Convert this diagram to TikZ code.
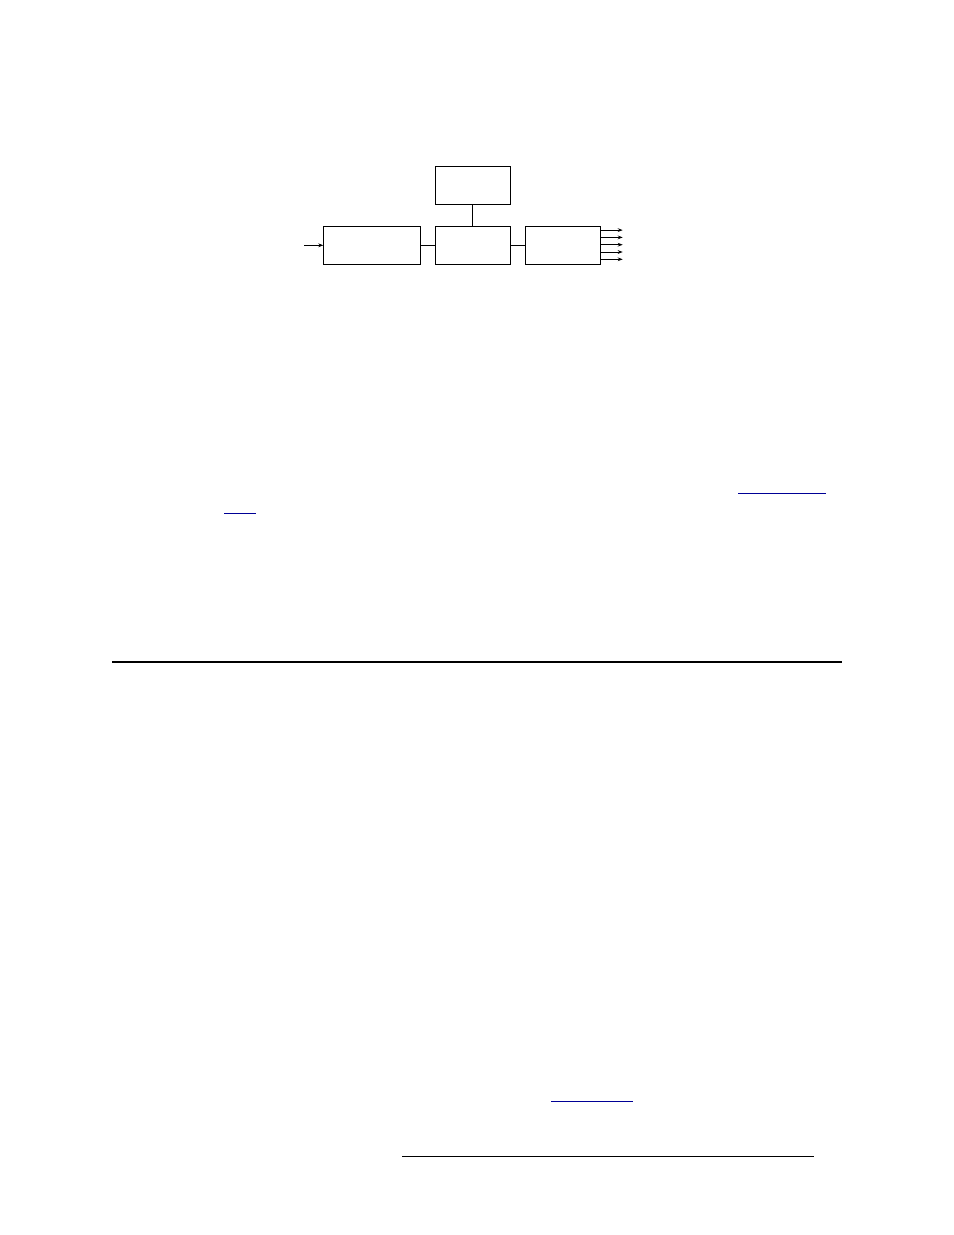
\documentclass[tikz,border=0pt]{standalone}
\usepackage{xcolor}
\usepackage{tikz}
\usetikzlibrary{
    positioning,
    arrows.meta,
    calc
}
\definecolor{linkBlue}{RGB}{0, 0, 150}

\begin{document}
\begin{tikzpicture}[x=0.6415pt, y=-0.6415pt, >={Stealth[length=3.2pt, width=2.4pt]},
        blk/.style={draw, line width=0.6pt, inner sep=0pt, outer sep=0pt, minimum height=24.4pt},
        wire/.style={line width=0.6pt}]
        % 枠
        \useasboundingbox (0,0) rectangle (954,1235);
        \fill[white] (0,0) rectangle (954,1235);
        
        % ブロック
        \node[blk, minimum width=62.2pt] (conv) at (371.8, 245.3) {};
        \node[blk, minimum width=48.1pt] (mix) at (472.8, 245.3) {};
        \node[blk, minimum width=48.1pt] (ctrl) at (472.8, 185) {};
        \node[blk, minimum width=48.1pt] (dist) at (562.8, 245.3) {};
        
        % 接続
        \coordinate (in) at (304, 245.3);
        \draw[wire, ->] (in) -- (conv.west);
        \draw[wire] (conv.east) -- (mix.west);
        \draw[wire] (ctrl.south) -- (mix.north);
        \draw[wire] (mix.east) -- (dist.west);
        \foreach \i in {-2,...,2} {
            \coordinate (out\i) at (622.7, 244.7+7.3*\i);
            \draw[wire, ->] (dist.east |- out\i) -- (out\i);
        }
        
        % 下線と罫線
        \draw[linkBlue, line width=0.65pt] (738, 493.3) -- (825.7, 493.3);
        \draw[linkBlue, line width=0.65pt] (224, 513.3) -- (255.7, 513.3);
        \draw[line width=0.9pt] (112, 662) -- (842, 662);
        \draw[linkBlue, line width=0.65pt] (551, 1101.3) -- (633, 1101.3);
        \draw[line width=0.9pt] (402, 1156.3) -- (814, 1156.3);
    \end{tikzpicture}
\end{document}
